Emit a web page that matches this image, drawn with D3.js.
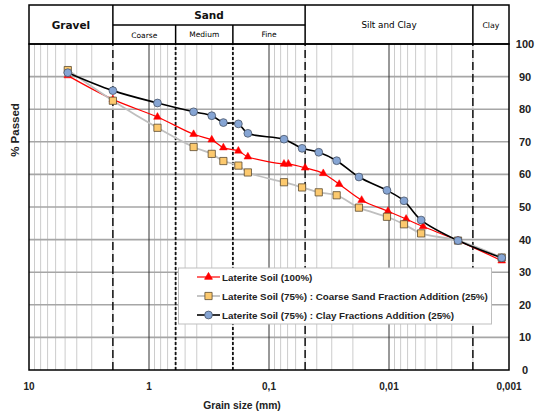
<!DOCTYPE html>
<html><head><meta charset="utf-8">
<script src="https://cdn.jsdelivr.net/npm/d3@7"></script>
<style>
body{margin:0;background:#fff;}
svg{display:block;}
</style></head>
<body>
<svg id="c" width="545" height="416"></svg>
<script>
// ---- data ----
const redSizes   = [4.75, 2, 0.85, 0.425, 0.3, 0.24, 0.18, 0.15, 0.075, 0.069, 0.05, 0.0353, 0.026, 0.0169, 0.0102, 0.0072, 0.0052, 0.00266, 0.00115];
const redPassed  = [90.3, 83.0, 77.6, 72.3, 70.6, 68.2, 67.2, 65.4, 63.2, 63.2, 62.0, 60.3, 57.0, 52.1, 48.7, 46.3, 44.0, 39.7, 33.5];
const sandSizes  = [4.75, 2, 0.85, 0.425, 0.3, 0.24, 0.18, 0.15, 0.075, 0.053, 0.0385, 0.0273, 0.0178, 0.0104, 0.0075, 0.0054, 0.00266, 0.00115];
const sandPassed = [92.0, 82.6, 74.3, 68.4, 66.3, 64.1, 62.7, 60.6, 57.6, 56.0, 54.5, 53.6, 49.8, 47.0, 44.7, 41.9, 39.7, 34.5];
const claySizes  = [4.75, 2, 0.85, 0.425, 0.3, 0.24, 0.18, 0.15, 0.075, 0.053, 0.0385, 0.0273, 0.0178, 0.0104, 0.0075, 0.0054, 0.00266, 0.00115];
const clayPassed = [91.2, 85.7, 81.9, 79.2, 78.0, 75.9, 75.5, 72.6, 70.8, 68.0, 66.8, 64.2, 59.2, 55.1, 51.9, 46.0, 39.7, 34.4];
const seriesNames = ["Laterite Soil (100%)", "Laterite Soil (75%) : Coarse Sand Fraction Addition (25%)", "Laterite Soil (75%) : Clay Fractions Addition (25%)"];
const xTicks = [10, 1, 0.1, 0.01, 0.001];
const xTickLabels = ["10", "1", "0,1", "0,01", "0,001"];
const yTicks = [0, 10, 20, 30, 40, 50, 60, 70, 80, 90, 100];
const boundaries = [2, 0.6, 0.2, 0.05, 0.002];

const svg = d3.select("#c");
const x = d3.scaleLog().domain([10, 0.001]).range([29, 509]);
const y = d3.scaleLinear().domain([0, 100]).range([370, 44]);
const FONT = "'Liberation Sans', Arial, sans-serif";

// minor vertical grid
const minor = [];
for (let e = -3; e <= 0; e++) for (let m = 2; m <= 9; m++) minor.push(m * Math.pow(10, e));
svg.append("g").selectAll("line").data(minor).join("line")
  .attr("x1", d => x(d)).attr("x2", d => x(d)).attr("y1", y(0)).attr("y2", y(100))
  .attr("stroke", "#cccccc").attr("stroke-width", 1);
// horizontal grid
svg.append("g").selectAll("line").data(yTicks.slice(1, -1)).join("line")
  .attr("x1", x(10)).attr("x2", x(0.001)).attr("y1", d => y(d)).attr("y2", d => y(d))
  .attr("stroke", "#a6a6a6").attr("stroke-width", 1.6);
// major vertical grid
svg.append("g").selectAll("line").data([1, 0.1, 0.01]).join("line")
  .attr("x1", d => x(d)).attr("x2", d => x(d)).attr("y1", y(0)).attr("y2", y(100))
  .attr("stroke", "#333").attr("stroke-width", 1);

// boundary dashed lines
const dashFor = d => (d === 0.6 || d === 0.2) ? "3,2" : "8,4";
svg.append("g").selectAll("line").data(boundaries).join("line")
  .attr("x1", d => x(d)).attr("x2", d => x(d)).attr("y1", y(0)).attr("y2", y(100))
  .attr("stroke", "#111").attr("stroke-width", d => (d === 0.6 || d === 0.2) ? 1.8 : 1.5)
  .attr("stroke-dasharray", dashFor);

// plot frame
svg.append("rect").attr("x", x(10)).attr("y", y(100)).attr("width", x(0.001) - x(10)).attr("height", y(0) - y(100))
  .attr("fill", "none").attr("stroke", "#000").attr("stroke-width", 1.5);

// header
const hTop = 5, hMid = 25, hBot = y(100);
const hg = svg.append("g").attr("stroke", "#000").attr("stroke-width", 1.5).attr("fill", "none");
hg.append("rect").attr("x", x(10)).attr("y", hTop).attr("width", x(0.001) - x(10)).attr("height", hBot - hTop);
[2, 0.05, 0.002].forEach(d => hg.append("line").attr("x1", x(d)).attr("x2", x(d)).attr("y1", hTop).attr("y2", hBot));
hg.append("line").attr("x1", x(2)).attr("x2", x(0.05)).attr("y1", hMid).attr("y2", hMid);
[0.6, 0.2].forEach(d => hg.append("line").attr("x1", x(d)).attr("x2", x(d)).attr("y1", hMid).attr("y2", hBot));

const HF = "'DejaVu Sans', sans-serif";
function htext(t, cx, cy, size, weight, color) {
  svg.append("text").attr("x", cx).attr("y", cy).attr("text-anchor", "middle").attr("dominant-baseline", "central")
    .attr("font-family", HF).attr("font-size", size).attr("font-weight", weight).attr("fill", color || "#111").text(t);
}
htext("Gravel", (x(10) + x(2)) / 2, (hTop + hBot) / 2, 10.5, "bold");
htext("Sand", (x(2) + x(0.05)) / 2, (hTop + hMid) / 2, 10.5, "bold");
htext("Coarse", (x(2) + x(0.6)) / 2, (hMid + hBot) / 2 + 1, 7.5, "normal", "#000");
htext("Medium", (x(0.6) + x(0.2)) / 2, (hMid + hBot) / 2, 7.5, "normal", "#000");
htext("Fine", (x(0.2) + x(0.05)) / 2, (hMid + hBot) / 2, 7.5, "normal", "#000");
htext("Silt and Clay", (x(0.05) + x(0.002)) / 2, (hTop + hBot) / 2, 8.8, "normal", "#000");
htext("Clay", (x(0.002) + x(0.001)) / 2, (hTop + hBot) / 2 + 1, 7.8, "normal", "#000");

// axes labels
svg.append("g").selectAll("text").data(xTicks).join("text")
  .attr("x", d => x(d)).attr("y", 390).attr("text-anchor", "middle")
  .attr("font-family", FONT).attr("font-size", 10).attr("font-weight", "bold").attr("fill", "#222")
  .text((d, i) => xTickLabels[i]);
svg.append("g").selectAll("text").data(yTicks).join("text")
  .attr("x", 525).attr("y", d => y(d) + 4).attr("text-anchor", "middle")
  .attr("font-family", FONT).attr("font-size", 11).attr("font-weight", "bold").attr("fill", "#222")
  .text(d => d);
svg.append("text").attr("x", 242).attr("y", 409).attr("text-anchor", "middle")
  .attr("font-family", FONT).attr("font-size", 11.5).attr("font-weight", "bold").attr("fill", "#222")
  .attr("transform", "translate(242,0) scale(0.9,1) translate(-242,0)")
  .text("Grain size (mm)");
svg.append("text").attr("transform", "translate(19,130) rotate(-90)").attr("text-anchor", "middle")
  .attr("font-family", FONT).attr("font-size", 11.5).attr("font-weight", "bold").attr("fill", "#222")
  .text("% Passed");

// series
const series = [
  {sizes: redSizes, vals: redPassed, line: "#ff0000", lw: 1.2, marker: "tri", fill: "#ff0000", stroke: "#ff0000"},
  {sizes: sandSizes, vals: sandPassed, line: "#bfbfbf", lw: 1.8, marker: "sq", fill: "#fcc96e", stroke: "#5a4a30"},
  {sizes: claySizes, vals: clayPassed, line: "#000000", lw: 1.6, marker: "circ", fill: "#86a5d4", stroke: "#4a5568"}
];
const line = d3.line().x(d => x(d[0])).y(d => y(d[1])).curve(d3.curveCatmullRom.alpha(0.5));
const symType = {tri: d3.symbolTriangle, sq: d3.symbolSquare, circ: d3.symbolCircle};
const symSize = {tri: 26, sq: 52, circ: 48};
series.forEach(s => {
  const pts = s.sizes.map((d, i) => [d, s.vals[i]]);
  svg.append("path").datum(pts).attr("d", line).attr("fill", "none").attr("stroke", s.line).attr("stroke-width", s.lw);
  s.pts = pts;
});
series.forEach(s => {
  svg.append("g").selectAll("path").data(s.pts).join("path")
    .attr("transform", d => `translate(${x(d[0])},${y(d[1])})`)
    .attr("d", d3.symbol().type(symType[s.marker]).size(symSize[s.marker]))
    .attr("fill", s.fill).attr("stroke", s.stroke).attr("stroke-width", s.marker === "tri" ? 0.5 : 0.8);
});

// legend
const lg = svg.append("g");
lg.append("rect").attr("x", 178.5).attr("y", 268).attr("width", 313).attr("height", 56)
  .attr("fill", "#fff").attr("stroke", "#bfbfbf").attr("stroke-width", 1);
series.forEach((s, i) => {
  const ly = 277 + i * 19;
  lg.append("line").attr("x1", 197).attr("x2", 220).attr("y1", ly).attr("y2", ly).attr("stroke", s.line).attr("stroke-width", s.lw);
  lg.append("path").attr("transform", `translate(208.5,${ly})`)
    .attr("d", d3.symbol().type(symType[s.marker]).size(symSize[s.marker]))
    .attr("fill", s.fill).attr("stroke", s.stroke).attr("stroke-width", 0.8);
  lg.append("text").attr("x", 222).attr("y", ly + 3.5).attr("font-family", FONT).attr("font-size", 9.8)
    .attr("font-weight", "bold").attr("fill", "#222").text(seriesNames[i]);
});
</script>
</body></html>
